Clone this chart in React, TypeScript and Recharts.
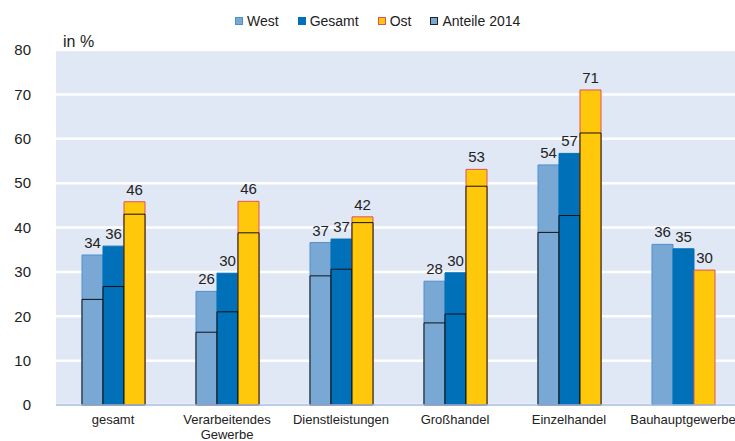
import React from "react";
import {
  BarChart,
  Bar,
  XAxis,
  YAxis,
  CartesianGrid,
  LabelList,
} from "recharts";

const categories = [
  "gesamt",
  "Verarbeitendes\nGewerbe",
  "Dienstleistungen",
  "Großhandel",
  "Einzelhandel",
  "Bauhauptgewerbe",
];
const west = [33.8, 25.6, 36.6, 27.9, 54.1, 36.2];
const gesamt = [35.8, 29.7, 37.4, 29.8, 56.7, 35.2];
const ost = [45.8, 45.9, 42.4, 53.1, 71.0, 30.4];
const west2014 = [23.8, 16.4, 29.1, 18.5, 38.9, null];
const gesamt2014 = [26.7, 21.0, 30.6, 20.5, 42.7, null];
const ost2014 = [43.0, 38.8, 41.1, 49.3, 61.3, null];
const yTicks = [0, 10, 20, 30, 40, 50, 60, 70, 80];
const legendNames = ["West", "Gesamt", "Ost", "Anteile 2014"];

const COLORS = {
  west: "#7AA8D5",
  westLine: "#4A90D0",
  gesamt: "#0070B8",
  ost: "#FFC80A",
  ostLine: "#E0505A",
  outline: "#111111",
  plot: "#E1E8F5",
  axis: "#A3BCE0",
  text: "#222222",
};

const FONT = '"Liberation Sans", Arial, sans-serif';

const data = categories.map((name, i) => ({
  name,
  west: west[i],
  gesamt: gesamt[i],
  ost: ost[i],
  west14: west2014[i],
  gesamt14: gesamt2014[i],
  ost14: ost2014[i],
}));

const edgeTicks = Array.from({ length: categories.length + 1 }, (_, i) => i);

const legendIcons = [
  { fill: COLORS.west, border: COLORS.westLine },
  { fill: COLORS.gesamt, border: COLORS.gesamt },
  { fill: COLORS.ost, border: COLORS.ostLine },
  { fill: COLORS.west, border: "#222" },
];

function CategoryTick({ x, y, payload }: any) {
  const lines = String(payload.value).split("\n");
  return (
    <text x={x} y={y} textAnchor="middle" fontSize={13} fill={COLORS.text} fontFamily={FONT}>
      {lines.map((l, i) => (
        <tspan key={i} x={x} dy={i === 0 ? "0.71em" : "1.15em"}>
          {l}
        </tspan>
      ))}
    </text>
  );
}

const labelProps = {
  position: "top" as const,
  offset: 7,
  fontSize: 15,
  fill: COLORS.text,
  fontFamily: FONT,
  formatter: (v: any) => Math.round(Number(v)),
};

export default function App() {
  return (
    <div
      style={{
        position: "absolute",
        left: 0,
        top: 0,
        width: 735,
        height: 441,
        overflow: "hidden",
        background: "#fff",
        fontFamily: FONT,
      }}
    >
      <div
        style={{
          position: "absolute",
          top: 13,
          left: 235,
          display: "flex",
          alignItems: "center",
          fontSize: 14,
          color: COLORS.text,
          whiteSpace: "nowrap",
        }}
      >
        {legendNames.map((n, i) => (
          <div key={n} style={{ display: "flex", alignItems: "center", marginRight: 19 }}>
            <span
              style={{
                display: "inline-block",
                width: 8,
                height: 8,
                boxSizing: "border-box",
                background: legendIcons[i].fill,
                border: `1px solid ${legendIcons[i].border}`,
                marginRight: 4,
              }}
            />
            <span>{n}</span>
          </div>
        ))}
      </div>
      <BarChart
        width={740}
        height={441}
        data={data}
        margin={{ top: 50, right: 0, left: 0, bottom: 0 }}
        barSize={21}
        barGap={0}
      >
        <CartesianGrid
          xAxisId="main"
          vertical={false}
          fill={COLORS.plot}
          fillOpacity={1}
          stroke="#ffffff"
          strokeWidth={2.5}
        />
        <XAxis
          xAxisId="edges"
          type="number"
          domain={[0, categories.length]}
          ticks={edgeTicks}
          height={0}
          axisLine={false}
          tickSize={4}
          tickLine={{ stroke: COLORS.axis, strokeWidth: 1.5 }}
          tick={() => <g />}
        />
        <XAxis
          xAxisId="main"
          dataKey="name"
          height={36}
          interval={0}
          tickLine={false}
          tickSize={0}
          tickMargin={10}
          axisLine={{ stroke: COLORS.axis, strokeWidth: 1.5 }}
          tick={<CategoryTick />}
        />
        <XAxis xAxisId="over" dataKey="name" hide />
        <YAxis
          width={56}
          domain={[0, 80]}
          ticks={yTicks}
          axisLine={false}
          tickLine={false}
          tickMargin={19}
          tick={{ fontSize: 15, fill: COLORS.text, fontFamily: FONT }}
          label={{
            content: ({ viewBox }: any) => (
              <text
                x={viewBox.x + viewBox.width + 7}
                y={viewBox.y - 3}
                fontSize={16}
                fill={COLORS.text}
                fontFamily={FONT}
              >
                in %
              </text>
            ),
          }}
        />
        <Bar xAxisId="main" dataKey="west" fill={COLORS.west} stroke={COLORS.westLine} isAnimationActive={false}>
          <LabelList dataKey="west" {...labelProps} />
        </Bar>
        <Bar xAxisId="main" dataKey="gesamt" fill={COLORS.gesamt} stroke={COLORS.gesamt} isAnimationActive={false}>
          <LabelList dataKey="gesamt" {...labelProps} />
        </Bar>
        <Bar xAxisId="main" dataKey="ost" fill={COLORS.ost} stroke={COLORS.ostLine} isAnimationActive={false}>
          <LabelList dataKey="ost" {...labelProps} />
        </Bar>
        <Bar xAxisId="over" dataKey="west14" fill={COLORS.west} stroke={COLORS.outline} isAnimationActive={false} />
        <Bar xAxisId="over" dataKey="gesamt14" fill={COLORS.gesamt} stroke={COLORS.outline} isAnimationActive={false} />
        <Bar xAxisId="over" dataKey="ost14" fill={COLORS.ost} stroke={COLORS.outline} isAnimationActive={false} />
      </BarChart>
    </div>
  );
}
